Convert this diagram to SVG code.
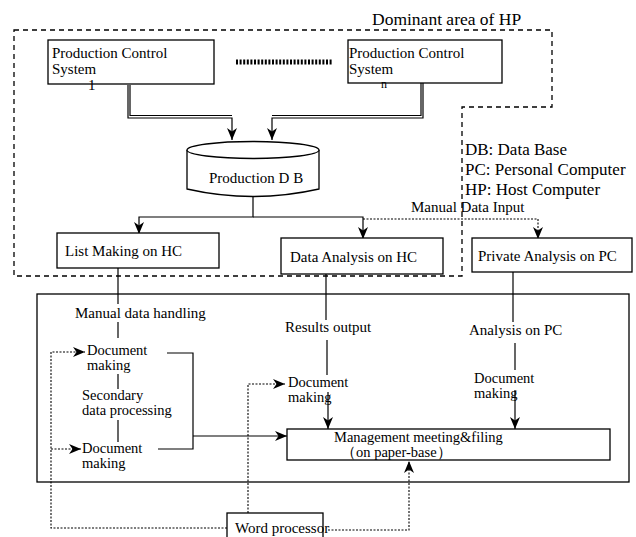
<svg xmlns="http://www.w3.org/2000/svg" width="636" height="537" viewBox="0 0 636 537">
<defs>
<marker id="ah" viewBox="0 0 12 10" refX="12" refY="5" markerWidth="12" markerHeight="10" markerUnits="userSpaceOnUse" orient="auto">
<path d="M0,0 L12,5 L0,10 L3.5,5 z" fill="#000"/>
</marker>
<style>
text{font-family:"Liberation Serif","Times New Roman",serif;font-size:15px;fill:#000}
.box{fill:#fff;stroke:#000;stroke-width:1.3}
.ln{fill:none;stroke:#000;stroke-width:1.2}
.dot{fill:none;stroke:#000;stroke-width:1.1;stroke-dasharray:2 1.5}
.area{fill:none;stroke:#000;stroke-width:1.3;stroke-dasharray:5 4}
.leg{font-size:17px}
.sm{font-size:14.5px}
</style>
</defs>
<rect width="636" height="537" fill="#fff"/>
<g id="dominant-area">
<path class="area" d="M14,30 H552 V107 H462 V276 H14 Z"/>
<text x="372" y="25" style="font-size:17.5px">Dominant area  of HP</text>
</g>
<g id="legend">
<text class="leg" x="465" y="155">DB: Data Base</text>
<text class="leg" x="465" y="175">PC: Personal Computer</text>
<text class="leg" x="465" y="195">HP: Host Computer</text>
</g>
<g id="outer-frame">
<rect x="37" y="294" width="592" height="188" fill="none" stroke="#000" stroke-width="1.3"/>
</g>
<g id="connectors">
<path class="ln" d="M128,85 V118 H232 V140" marker-end="url(#ah)"/>
<path class="ln" d="M130,85 V115.5 H232"/>
<path class="ln" d="M423,83 V118 H272 V140" marker-end="url(#ah)"/>
<path class="ln" d="M421,83 V115.5 H272"/>
<path class="ln" d="M253,197 V217 H139 V234" marker-end="url(#ah)"/>
<path class="ln" d="M253,217 H363 V239" marker-end="url(#ah)"/>
<path class="dot" d="M363,219 H538 V239" marker-end="url(#ah)"/>
<path class="ln" d="M118,268 V304"/>
<path class="ln" d="M118,322 V338"/>
<path class="ln" d="M118,374 V389"/>
<path class="ln" d="M118,420 V442"/>
<path class="ln" d="M167,353 H193 V449 H158"/>
<path class="ln" d="M193,436 H287" marker-end="url(#ah)"/>
<path class="ln" d="M326,273 V320"/>
<path class="ln" d="M327,340 V375"/>
<path class="ln" d="M328,392 V429" marker-end="url(#ah)"/>
<path class="ln" d="M513,272 V322"/>
<path class="ln" d="M515,343 V370"/>
<path class="ln" d="M515,390 V429" marker-end="url(#ah)"/>
<path class="dot" d="M227,528 H51 V352 H85" marker-end="url(#ah)"/>
<path class="dot" d="M51,449 H81" marker-end="url(#ah)"/>
<path class="dot" d="M248,513 V384 H285" marker-end="url(#ah)"/>
<path class="dot" d="M328,530 H409 V461" marker-end="url(#ah)"/>
<line x1="236" y1="62" x2="333" y2="62" stroke="#000" stroke-width="5" stroke-dasharray="2 1.6"/>
</g>
<g id="pcs1">
<rect class="box" x="48" y="40" width="166" height="44"/>
<text x="52" y="58">Production Control</text>
<text x="52" y="74">System</text>
<text x="88" y="90">1</text>
</g>
<g id="pcsn">
<rect class="box" x="348" y="40" width="154" height="43"/>
<text x="349" y="58">Production Control</text>
<text x="349" y="74">System</text>
<text x="381" y="88" style="font-size:12px">n</text>
</g>
<g id="production-db">
<path class="box" d="M187,150 V189 Q253,204 319,189 V150"/>
<ellipse class="box" cx="253" cy="150" rx="66" ry="8.5"/>
<text x="209" y="183">Production  D B</text>
</g>
<g id="list-making">
<rect class="box" x="57" y="233" width="162" height="35"/>
<text x="65" y="256">List Making on HC</text>
</g>
<g id="data-analysis">
<rect class="box" x="281" y="238" width="162" height="36"/>
<text x="290" y="262">Data Analysis on HC</text>
</g>
<g id="private-analysis">
<rect class="box" x="472" y="238" width="160" height="34"/>
<text x="478" y="261">Private Analysis on PC</text>
</g>
<g id="labels">
<text x="75" y="318">Manual data handling</text>
<text x="411" y="212">Manual Data Input</text>
<text x="285" y="332">Results output</text>
<text x="469" y="335">Analysis on PC</text>
</g>
<g id="doc1">
<text class="sm" x="87" y="355">Document</text>
<text class="sm" x="87" y="370">making</text>
</g>
<g id="secondary">
<text class="sm" x="82" y="400">Secondary</text>
<text class="sm" x="82" y="415">data processing</text>
</g>
<g id="doc2">
<text class="sm" x="82" y="453">Document</text>
<text class="sm" x="82" y="468">making</text>
</g>
<g id="doc3">
<text class="sm" x="288" y="387">Document</text>
<text class="sm" x="288" y="402">making</text>
</g>
<g id="doc4">
<text class="sm" x="474" y="383">Document</text>
<text class="sm" x="474" y="398">making</text>
</g>
<g id="management">
<rect class="box" x="287" y="429" width="323" height="31"/>
<text class="sm" x="334" y="442">Management meeting&amp;filing</text>
<text class="sm" x="341" y="457">（on paper-base）</text>
</g>
<g id="word-processor">
<rect class="box" x="227" y="513" width="96" height="30"/>
<text x="235" y="533">Word processor</text>
</g>
</svg>
